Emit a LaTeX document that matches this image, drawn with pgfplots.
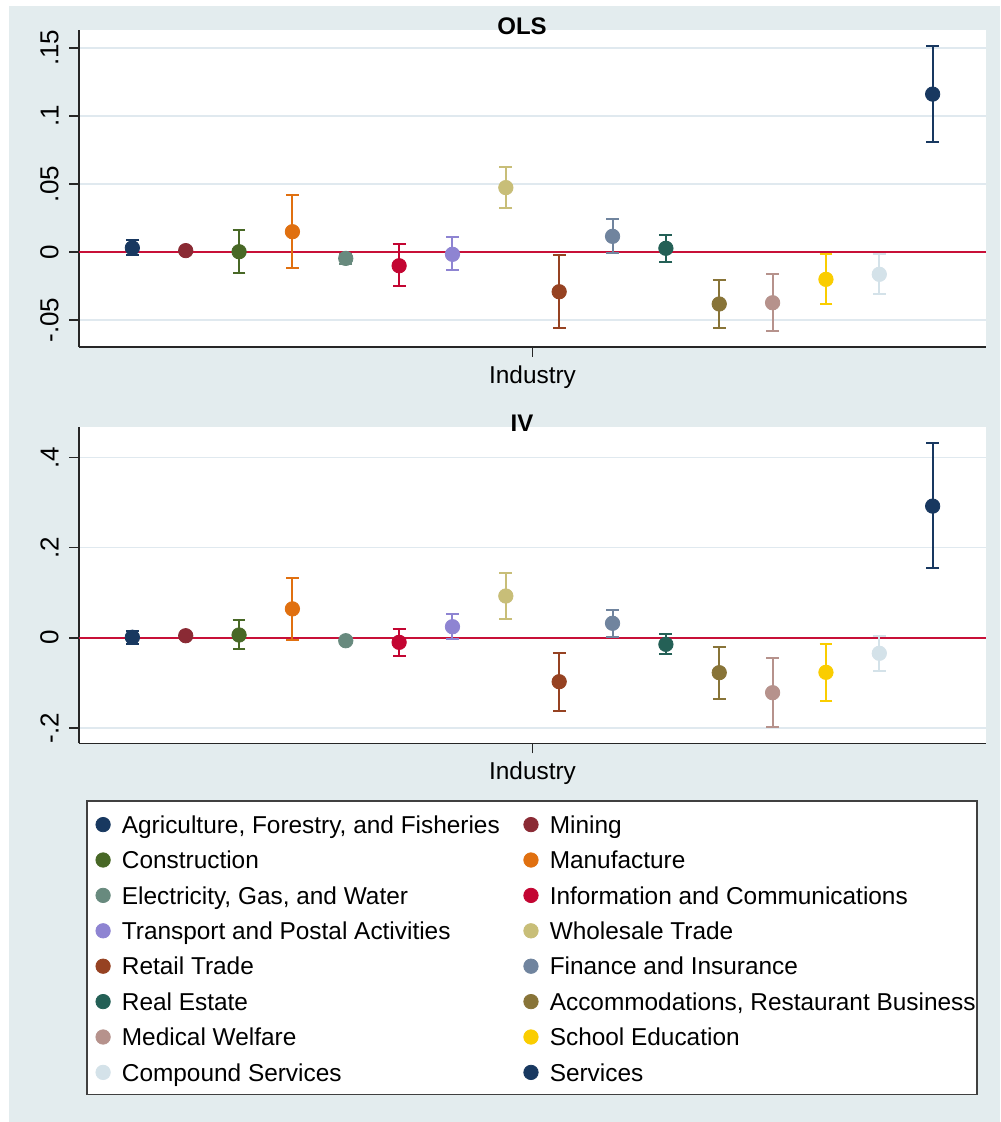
\documentclass[border=0pt]{standalone}
\usepackage{fontspec}
\setmainfont{Liberation Sans}
\usepackage{pgfplots}
\pgfplotsset{compat=1.18}

% Stata s2color-like palette
\definecolor{bgc}{RGB}{227,236,238}
\definecolor{gridc}{RGB}{224,233,239}
\definecolor{zeroc}{RGB}{200,16,56}
\definecolor{c1}{RGB}{24,56,96}
\definecolor{c2}{RGB}{138,42,52}
\definecolor{c3}{RGB}{72,104,38}
\definecolor{c4}{RGB}{224,112,16}
\definecolor{c5}{RGB}{104,138,126}
\definecolor{c6}{RGB}{195,5,50}
\definecolor{c7}{RGB}{142,132,210}
\definecolor{c8}{RGB}{200,190,120}
\definecolor{c9}{RGB}{150,66,34}
\definecolor{c10}{RGB}{112,132,158}
\definecolor{c11}{RGB}{36,96,86}
\definecolor{c12}{RGB}{136,116,56}
\definecolor{c13}{RGB}{182,146,140}
\definecolor{c14}{RGB}{250,205,0}
\definecolor{c15}{RGB}{212,226,233}
\definecolor{c16}{RGB}{24,56,96}

\pgfplotsset{
  ci/.style={only marks, mark=*, mark size=3.6pt, color=#1,
    legend image code/.code={\draw[##1] plot coordinates {(0pt,0pt)};},
    error bars/y dir=both, error bars/y explicit,
    error bars/error bar style={line width=1pt},
    error bars/error mark options={rotate=90, line width=1pt, mark size=3.2pt}},
  panel/.style={
    scale only axis, width=453.5pt,
    xmin=0, xmax=17,
    axis lines*=left,
    axis line style={-, line width=0.8pt, color=black!85},
    tick align=outside, major tick length=5pt,
    tick style={line width=0.8pt, color=black!85},
    xtick={8.5}, xticklabels={},
    ymajorgrids, grid style={line width=0.8pt, gridc},
    axis background/.style={fill=white},
    yticklabel style={rotate=90, anchor=south, inner sep=5pt,
      font=\fontsize{13}{15}\selectfont},
    xlabel={Industry},
    xlabel style={at={(axis description cs:0.5,0)}, anchor=base, yshift=-18.15pt,
      font=\fontsize{12.2}{14}\selectfont},
  },
}

\begin{document}
\begin{tikzpicture}
\fill[white] (0,0) rectangle (500pt,-561pt);
\path[use as bounding box] (0,0) rectangle (500pt,-561pt);
\fill[bgc] (4.5pt,-3pt) rectangle (500pt,-561pt);
% legend frame
\filldraw[fill=white, draw=black!75, line width=0.6pt] (43.5pt,-400.5pt) rectangle (488.5pt,-547.15pt);

% ---------------- OLS ----------------
\begin{axis}[panel,
  at={(39.5pt,-173.5pt)}, anchor=south west, height=158.5pt,
  ymin=-0.0698, ymax=0.1631,
  ytick={-0.05,0,0.05,0.1,0.15},
  yticklabels={-.05,0,.05,.1,.15},
]
\addplot[zeroc, line width=1pt, forget plot] coordinates {(0,0) (17,0)};
\addplot[ci=c1]  coordinates {(1,0.0030)   += (0,0.0058) -= (0,0.0052)};
\addplot[ci=c2]  coordinates {(2,0.0010)   += (0,0.0012) -= (0,0.0012)};
\addplot[ci=c3]  coordinates {(3,0.0002)   += (0,0.0162) -= (0,0.0159)};
\addplot[ci=c4]  coordinates {(4,0.0149)   += (0,0.0272) -= (0,0.0267)};
\addplot[ci=c5]  coordinates {(5,-0.0047)  += (0,0.0030) -= (0,0.0043)};
\addplot[ci=c6]  coordinates {(6,-0.0101)  += (0,0.0158) -= (0,0.0149)};
\addplot[ci=c7]  coordinates {(7,-0.0017)  += (0,0.0127) -= (0,0.0118)};
\addplot[ci=c8]  coordinates {(8,0.0473)   += (0,0.0150) -= (0,0.0147)};
\addplot[ci=c9]  coordinates {(9,-0.0292)  += (0,0.0270) -= (0,0.0269)};
\addplot[ci=c10] coordinates {(10,0.0115)  += (0,0.0128) -= (0,0.0120)};
\addplot[ci=c11] coordinates {(11,0.0027)  += (0,0.0098) -= (0,0.0098)};
\addplot[ci=c12] coordinates {(12,-0.0382) += (0,0.0176) -= (0,0.0174)};
\addplot[ci=c13] coordinates {(13,-0.0373) += (0,0.0209) -= (0,0.0208)};
\addplot[ci=c14] coordinates {(14,-0.0201) += (0,0.0184) -= (0,0.0181)};
\addplot[ci=c15] coordinates {(15,-0.0164) += (0,0.0149) -= (0,0.0147)};
\addplot[ci=c16] coordinates {(16,0.1160)  += (0,0.0353) -= (0,0.0353)};
\end{axis}

% ---------------- IV ----------------
\begin{axis}[panel,
  at={(39.5pt,-371.65pt)}, anchor=south west, height=158.3pt,
  ymin=-0.2343, ymax=0.4682,
  ytick={-0.2,0,0.2,0.4},
  yticklabels={-.2,0,.2,.4},
  legend columns=2,
  legend cell align=left,
  legend style={at={(0.01863,-0.2102)}, anchor=north west,
    draw=none, fill=none, inner sep=0pt, outer sep=0pt,
    font=\fontsize{12.2}{14}\selectfont,
    nodes={inner sep=0pt, text height=11.74pt, text depth=3pt},
    row sep=2.96pt, column sep=5.8pt,
    /tikz/every even column/.append style={column sep=12pt}},
]
\addplot[zeroc, line width=1pt, forget plot] coordinates {(0,0) (17,0)};
\addplot[ci=c1]  coordinates {(1,0.0010)   += (0,0.0150) -= (0,0.0140)};
\addplot[ci=c2]  coordinates {(2,0.0044)   += (0,0.0030) -= (0,0.0030)};
\addplot[ci=c3]  coordinates {(3,0.0060)   += (0,0.0330) -= (0,0.0320)};
\addplot[ci=c4]  coordinates {(4,0.0640)   += (0,0.0690) -= (0,0.0680)};
\addplot[ci=c5]  coordinates {(5,-0.0067)  += (0,0.0030) -= (0,0.0030)};
\addplot[ci=c6]  coordinates {(6,-0.0103)  += (0,0.0303) -= (0,0.0297)};
\addplot[ci=c7]  coordinates {(7,0.0244)   += (0,0.0276) -= (0,0.0264)};
\addplot[ci=c8]  coordinates {(8,0.0925)   += (0,0.0510) -= (0,0.0510)};
\addplot[ci=c9]  coordinates {(9,-0.0976)  += (0,0.0646) -= (0,0.0654)};
\addplot[ci=c10] coordinates {(10,0.0320)  += (0,0.0295) -= (0,0.0310)};
\addplot[ci=c11] coordinates {(11,-0.0147) += (0,0.0227) -= (0,0.0213)};
\addplot[ci=c12] coordinates {(12,-0.0776) += (0,0.0576) -= (0,0.0574)};
\addplot[ci=c13] coordinates {(13,-0.1220) += (0,0.0776) -= (0,0.0770)};
\addplot[ci=c14] coordinates {(14,-0.0768) += (0,0.0635) -= (0,0.0637)};
\addplot[ci=c15] coordinates {(15,-0.0346) += (0,0.0390) -= (0,0.0393)};
\addplot[ci=c16] coordinates {(16,0.2920)  += (0,0.1400) -= (0,0.1380)};
\legend{{Agriculture, Forestry, and Fisheries}, Mining, Construction, Manufacture,
  {Electricity, Gas, and Water}, Information and Communications,
  Transport and Postal Activities, Wholesale Trade, Retail Trade, Finance and Insurance,
  Real Estate, {Accommodations, Restaurant Business}, Medical Welfare, School Education,
  Compound Services, Services}
\end{axis}

% panel titles, set over the top edge of each plot region
\node[font=\bfseries\fontsize{12}{14}\selectfont, anchor=base] at (261pt,-17.15pt) {OLS};
\node[font=\bfseries\fontsize{12}{14}\selectfont, anchor=base] at (261pt,-215.85pt) {IV};
\end{tikzpicture}
\end{document}
